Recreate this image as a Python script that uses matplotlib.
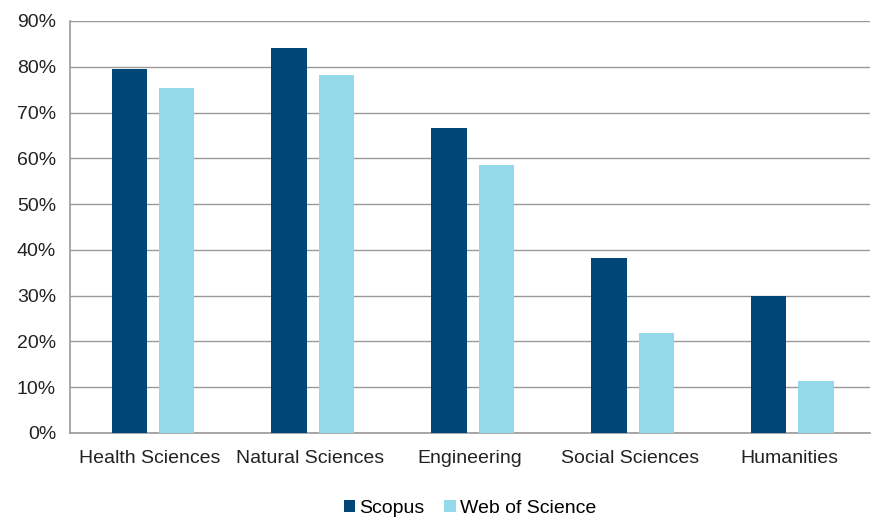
import numpy as np
import matplotlib.pyplot as plt

plt.rcParams['font.family'] = ['Liberation Sans', 'DejaVu Sans']

categories = ['Health Sciences', 'Natural Sciences', 'Engineering', 'Social Sciences', 'Humanities']
scopus = [79.5, 84.2, 66.6, 38.2, 29.9]
wos = [75.4, 78.3, 58.5, 21.8, 11.4]

fig = plt.figure(figsize=(8.74, 5.22), dpi=100)
ax = fig.add_axes([0.080, 0.1705, 0.915, 0.7893])
x = np.arange(len(categories))
w = 0.22
ax.bar(x - 0.13, scopus, w, color='#004778', label='Scopus', zorder=3)
ax.bar(x + 0.165, wos, w, color='#93D9EA', label='Web of Science', zorder=3)

ax.set_xlim(-0.5, 4.5)
ax.set_ylim(0, 90)
ax.set_yticks(range(0, 91, 10))
ax.set_yticklabels([f'{v}%' for v in range(0, 91, 10)], fontsize=14)
ax.set_xticks(x)
ax.set_xticklabels(categories, fontsize=14)
ax.tick_params(axis='x', length=0, pad=12, colors='#222222')
ax.tick_params(axis='y', length=0, pad=10, colors='#222222')
ax.grid(axis='y', color='#999999', linewidth=1, zorder=0)
for s in ['top', 'right']:
    ax.spines[s].set_visible(False)
for s in ['left', 'bottom']:
    ax.spines[s].set_color('#999999')
    ax.spines[s].set_linewidth(1.2)

ax.legend(loc='upper center', bbox_to_anchor=(0.5, -0.152), ncol=2, frameon=False,
          fontsize=14, handlelength=0.6, handleheight=0.6, columnspacing=1.0, handletextpad=0.2,
          borderaxespad=0, borderpad=0.2)
fig.savefig('out.png')
